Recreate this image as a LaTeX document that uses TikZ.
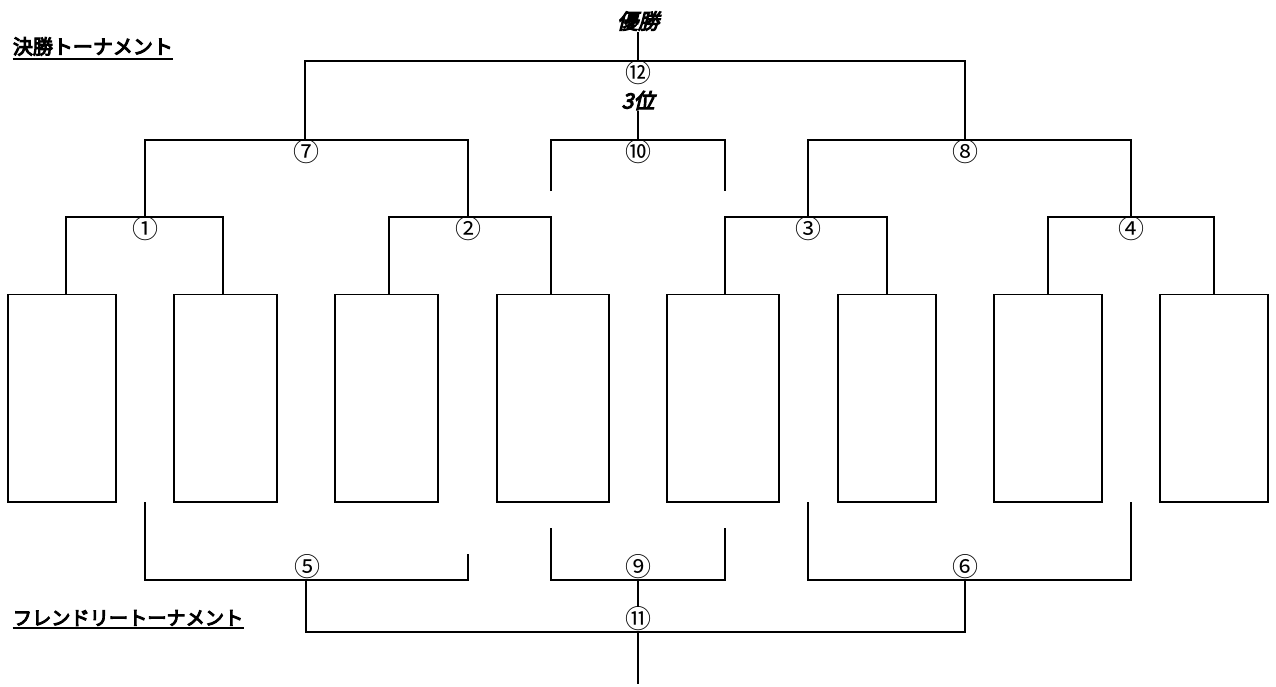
\documentclass[tikz,border=0pt]{standalone}
\usepackage{fontspec}
\newfontfamily\jp{Noto Sans CJK JP}
\newfontfamily\jpb{Noto Sans CJK JP}[FakeBold=5]
\newfontfamily\jpbi{Noto Sans CJK JP}[FakeBold=5,FakeSlant=0.25]
\tikzset{
  ln/.style={line width=1.8pt},
  entry/.style={draw, line width=1.8pt, minimum width=#1, minimum height=207.5pt, inner sep=0pt},
  num/.style={font=\jp\fontsize{26}{26}\selectfont, inner sep=0pt},
  head/.style={anchor=base west, inner sep=0pt},
  ital/.style={font=\jpbi\fontsize{21}{21}\selectfont, inner sep=1pt},
  uline/.style={line width=2pt}
}
\begin{document}
\begin{tikzpicture}[x=1pt,y=-1pt]
\useasboundingbox (0,0) rectangle (1276,686);
% entry boxes
\node[entry=108pt] (b1) at (62,398.25) {};
\node[entry=103pt] (b2) at (225.5,398.25) {};
\node[entry=103pt] (b3) at (386.5,398.25) {};
\node[entry=112pt] (b4) at (553,398.25) {};
\node[entry=112pt] (b5) at (723,398.25) {};
\node[entry=98pt]  (b6) at (887,398.25) {};
\node[entry=108pt] (b7) at (1048,398.25) {};
\node[entry=108pt] (b8) at (1214,398.25) {};
% junctions
\coordinate (m1) at (145,217);
\coordinate (m2) at (468,217);
\coordinate (m3) at (808,217);
\coordinate (m4) at (1131,217);
\coordinate (m7) at (305,140);
\coordinate (m8) at (965,140);
\coordinate (m10) at (638,140);
\coordinate (m12) at (638,61);
\coordinate (m5) at (306,580);
\coordinate (m9) at (638,580);
\coordinate (m6) at (965,580);
\coordinate (m11) at (638,632);
% free ends
\coordinate (e5a) at (145,502);
\coordinate (e5b) at (468,554);
\coordinate (e9a) at (551,528);
\coordinate (e9b) at (725,528);
\coordinate (e6a) at (808,502);
\coordinate (e6b) at (1131,502);
\coordinate (e10a) at (551,191);
\coordinate (e10b) at (725,191);
\coordinate (e11) at (638,684);
\coordinate (s11) at (638,607);
% labels
\node[num] (n1) at (145,229) {①};
\node[num] (n2) at (468,229) {②};
\node[num] (n3) at (808,229) {③};
\node[num] (n4) at (1131,229) {④};
\node[num] (n7) at (306,152) {⑦};
\node[num] (n8) at (965,152) {⑧};
\node[num] (n10) at (638,152) {⑩};
\node[num] (n12) at (638,72.5) {⑫};
\node[num] (n5) at (307,567) {⑤};
\node[num] (n9) at (638,567) {⑨};
\node[num] (n6) at (965,567) {⑥};
\node[num] (n11) at (638,619) {⑪};
\node[ital] (win) at (638,21) {優勝};
\node[ital] (third) at (638,100.5) {3位};
% headings
\node[head, font=\jpb\fontsize{20}{20}\selectfont] (h1) at (12.7,54) {決勝トーナメント};
\draw[uline] ([yshift=-5pt]h1.base west) -- ([yshift=-5pt]h1.base east);
\node[head, font=\jpb\fontsize{19.2}{19.2}\selectfont] (h2) at (12.7,625) {フレンドリートーナメント};
\draw[uline] ([yshift=-3pt]h2.base west) -- ([yshift=-3pt]h2.base east);
% first round
\draw[ln] ([xshift=4pt]b1.north) |- (m1) -| ([xshift=-2.5pt]b2.north);
\draw[ln] ([xshift=2.5pt]b3.north) |- (m2) -| ([xshift=-2pt]b4.north);
\draw[ln] ([xshift=2pt]b5.north) |- (m3) -| (b6.north);
\draw[ln] (b7.north) |- (m4) -| (b8.north);
% semis and final
\draw[ln] (m1) |- (m7) -| (m2);
\draw[ln] (m3) |- (m8) -| (m4);
\draw[ln] (m7) |- (m12) -| (m8);
\draw[ln] (win.south) -- (m12);
% third place
\draw[ln] (e10a) |- (m10) -| (e10b);
\draw[ln] (third.south) -- (m10);
% friendly
\draw[ln] (e5a) |- (m5) -| (e5b);
\draw[ln] (e9a) |- (m9) -| (e9b);
\draw[ln] (e6a) |- (m6) -| (e6b);
\draw[ln] (m5) |- (m11) -| (m6);
\draw[ln] (m9) -- (s11);
\draw[ln] (m11) -- (e11);
\end{tikzpicture}
\end{document}
